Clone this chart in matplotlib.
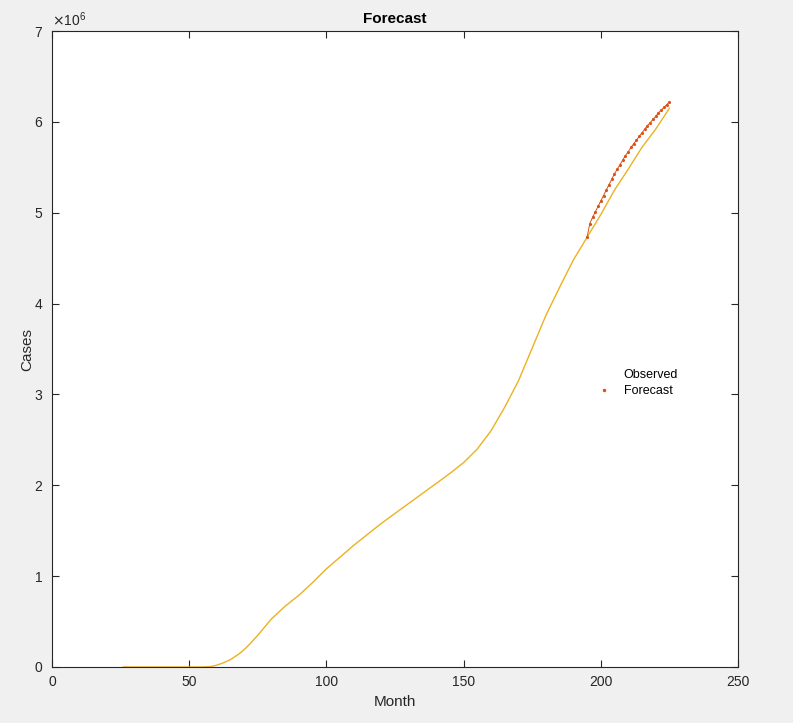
import matplotlib
matplotlib.use("Agg")
import matplotlib.pyplot as plt
from matplotlib.lines import Line2D

plt.rcParams['font.family'] = ['Liberation Sans', 'DejaVu Sans']

# observed cumulative cases (millions)
obs_month = [26, 30, 35, 40, 45, 50, 55, 58, 60, 62, 65, 68, 70, 72, 75, 80,
             85, 90, 95, 100, 105, 110, 115, 120, 125, 130, 135, 140, 145,
             150, 155, 160, 165, 170, 175, 180, 185, 190, 195, 200, 205, 210,
             215, 220, 225]
obs_cases = [0, 0, 0, 0, 0, 0, 0, 0.005, 0.02, 0.04, 0.08, 0.14, 0.19, 0.25,
             0.35, 0.53, 0.67, 0.79, 0.93, 1.08, 1.21, 1.34, 1.46, 1.58, 1.69,
             1.80, 1.91, 2.02, 2.13, 2.25, 2.40, 2.60, 2.86, 3.15, 3.51, 3.87,
             4.18, 4.48, 4.73, 4.98, 5.25, 5.48, 5.72, 5.92, 6.15]

# forecast (millions)
fc_month = list(range(195, 226))
fc_cases = [4.73, 4.88, 4.95, 5.01, 5.07, 5.13, 5.19, 5.25, 5.31, 5.37, 5.43,
            5.48, 5.53, 5.58, 5.63, 5.67, 5.72, 5.76, 5.80, 5.84, 5.88, 5.92,
            5.96, 5.99, 6.03, 6.06, 6.10, 6.13, 6.16, 6.19, 6.22]

yellow = '#EDB120'
red = '#D95319'

fig = plt.figure(figsize=(7.93, 7.23), dpi=100, facecolor='#f0f0f0')
ax = fig.add_axes([0.0656, 0.0775, 0.865, 0.8795])

ax.plot(obs_month, [v * 1e6 for v in obs_cases], color=yellow, lw=1, zorder=2)
ax.plot(fc_month, [v * 1e6 for v in fc_cases], color=red, lw=0.7, zorder=3)
ax.plot(fc_month, [v * 1e6 for v in fc_cases], '.', color=red,
        markersize=2.5, zorder=4)

ax.set_xlim(0, 250)
ax.set_ylim(0, 7e6)
ax.set_xticks(range(0, 251, 50))
ax.set_yticks([i * 1e6 for i in range(8)])
ax.set_yticklabels([str(i) for i in range(8)])
ax.tick_params(direction='in', top=True, right=True, labelsize=10,
               length=5, width=0.8, colors='#262626')
ax.tick_params(axis='x', pad=6)
ax.tick_params(axis='y', pad=7)
for s in ax.spines.values():
    s.set_linewidth(0.8)
    s.set_color('#262626')

ax.text(0.0, 1.003, r'$\times\mathregular{10^{6}}$', transform=ax.transAxes,
        ha='left', va='bottom', fontsize=10, color='#262626')

ax.set_xlabel('Month', fontsize=11, color='#262626')
ax.set_ylabel('Cases', fontsize=11, color='#262626', labelpad=0)
ax.set_title('Forecast', fontsize=11, fontweight='bold', pad=6)

handles = [Line2D([], [], linestyle='none'),
           Line2D([], [], linestyle='none', marker='.', color=red,
                  markersize=3)]
ax.legend(handles, ['Observed', 'Forecast'], loc='center left',
          bbox_to_anchor=(0.775, 0.4465), frameon=False, fontsize=9,
          handlelength=1.5, labelspacing=0.35)

fig.savefig('out.png', dpi=100, facecolor=fig.get_facecolor())
